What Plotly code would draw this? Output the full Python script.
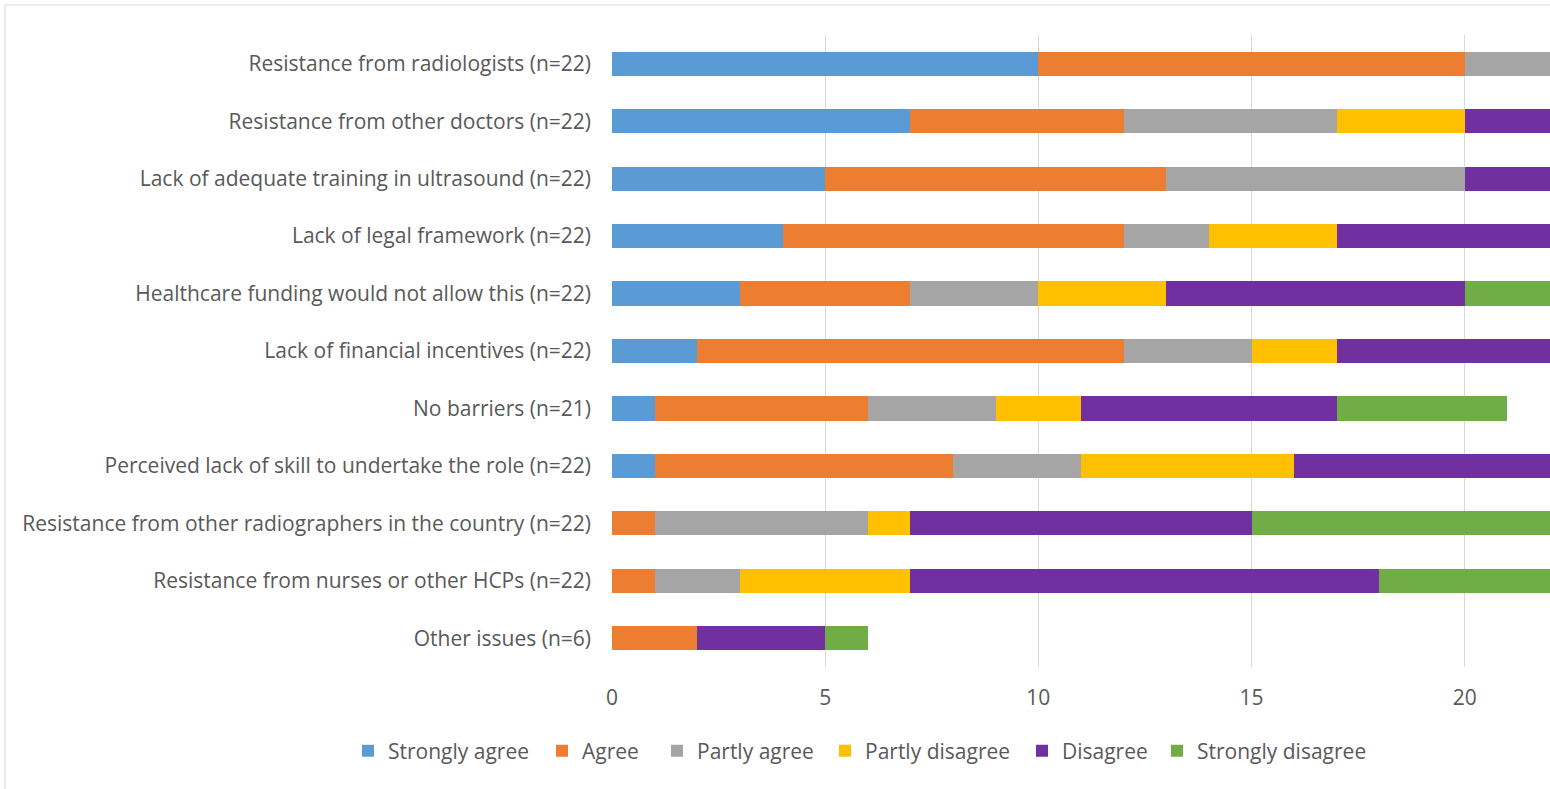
import plotly.graph_objects as go

# Survey items, listed top to bottom
categories = [
    "Resistance from radiologists (n=22)",
    "Resistance from other doctors (n=22)",
    "Lack of adequate training in ultrasound (n=22)",
    "Lack of legal framework (n=22)",
    "Healthcare funding would not allow this (n=22)",
    "Lack of financial incentives (n=22)",
    "No barriers (n=21)",
    "Perceived lack of skill to undertake the role (n=22)",
    "Resistance from other radiographers in the country (n=22)",
    "Resistance from nurses or other HCPs (n=22)",
    "Other issues (n=6)",
]

strongly_agree    = [10, 7, 5, 4, 3, 2, 1, 1, 0, 0, 0]
agree             = [10, 5, 8, 8, 4, 10, 5, 7, 1, 1, 2]
partly_agree      = [2, 5, 7, 2, 3, 3, 3, 3, 5, 2, 0]
partly_disagree   = [0, 3, 0, 3, 3, 2, 2, 5, 1, 4, 0]
disagree          = [0, 2, 2, 5, 7, 5, 6, 6, 8, 11, 3]
strongly_disagree = [0, 0, 0, 0, 2, 0, 4, 0, 7, 4, 1]

series = [
    ("Strongly agree", strongly_agree, "#5B9BD5"),
    ("Agree", agree, "#ED7D31"),
    ("Partly agree", partly_agree, "#A5A5A5"),
    ("Partly disagree", partly_disagree, "#FFC000"),
    ("Disagree", disagree, "#7030A0"),
    ("Strongly disagree", strongly_disagree, "#70AD47"),
]

x_ticks = [0, 5, 10, 15, 20]

FONT = "Open Sans"
TXT = "#595959"
FS = 21

W, H = 1550, 789
ml, mr, mt, mb = 612, 0, 35, 122
pw, ph = W - ml - mr, H - mt - mb

# left edge (px) of each legend entry's text, one legend box per series
legend_text_x = [388, 582, 697, 865, 1062, 1197]
LEGEND_Y = 751

fig = go.Figure()
legend_layout = {}
for i, ((name, vals, color), tx) in enumerate(zip(series, legend_text_x)):
    key = "legend" if i == 0 else f"legend{i + 1}"
    fig.add_trace(go.Bar(
        y=categories, x=vals, name=name, orientation="h",
        marker=dict(color=color, line=dict(width=0)),
        legend=key,
    ))
    legend_layout[key] = dict(
        orientation="h", xref="container", yref="container",
        x=(tx - 40) / W, xanchor="left",
        y=1 - LEGEND_Y / H, yanchor="middle",
        font=dict(family=FONT, size=FS, color=TXT),
        itemwidth=30, bgcolor="rgba(0,0,0,0)", borderwidth=0,
    )

fig.update_layout(
    width=W, height=H,
    barmode="stack", bargap=0.58,
    plot_bgcolor="white", paper_bgcolor="white",
    margin=dict(l=ml, r=mr, t=mt, b=mb, pad=0),
    font=dict(family=FONT, size=FS, color=TXT),
    showlegend=True,
    xaxis=dict(
        range=[0, 22], tickvals=x_ticks, showgrid=True,
        gridcolor="#D9D9D9", gridwidth=1, zeroline=False,
        showline=False, ticks="", ticklabelstandoff=16,
        tickfont=dict(family=FONT, size=FS, color=TXT),
    ),
    yaxis=dict(
        categoryorder="array", categoryarray=categories[::-1],
        showgrid=False, zeroline=False, showline=False, ticks="",
        ticklabelstandoff=20,
        tickfont=dict(family=FONT, size=FS, color=TXT),
    ),
    **legend_layout,
)

# chart-area border
fig.add_shape(
    type="rect", xref="paper", yref="paper",
    x0=(5 - ml) / pw, x1=(W + 10 - ml) / pw,
    y0=-(H + 10 - (H - mb)) / ph, y1=1 + (mt - 5) / ph,
    line=dict(color="#D9D9D9", width=1), fillcolor="rgba(0,0,0,0)", layer="below",
)

fig.write_html("out.html")
